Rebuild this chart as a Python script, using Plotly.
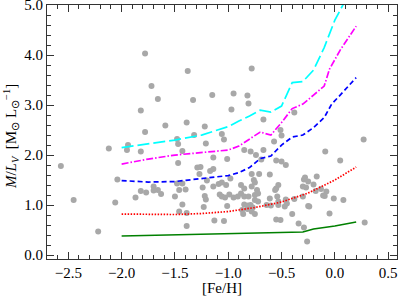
import plotly.graph_objects as go

# Observed globular clusters (gray points)
obs_feh = [-1.78, -1.38, -0.78, -1.72, -1.66, -1.33, -1.15, -0.95, -0.82, -0.81,
           -0.97, -1.82, -0.38, -0.67, -1.59, -1.39, -1.22, -1.78, -1.32, -1.06,
           -0.51, -0.50, -1.48, -1.04, -2.12, -1.94, -1.95, -1.82, -2.04, -1.70,
           -1.66, -1.70, -1.82, -1.77, -1.63, -1.87, -1.50, -2.06, -2.22, -2.57,
           -2.45, -1.47, -1.21, -1.43, -1.14, -1.01, -1.47, -1.29, -1.26, -1.17,
           -1.14, -1.27, -1.20, -0.98, -1.48, -1.43, -1.09, -1.06, -1.02, -1.24,
           -1.14, -1.46, -1.40, -1.08, -1.06, -1.03, -0.99, -0.95, -0.91, -1.22,
           -1.21, -1.43, -1.23, -1.01, -1.46, -1.39, -1.39, -1.13, -1.04, -0.57,
           -0.85, -0.79, -0.74, -0.67, -0.69, -0.55, -0.50, -0.46, -0.78, -0.71,
           -0.61, -0.76, -0.75, -0.88, -0.85, -0.78, -0.73, -0.53, -0.55, -0.56,
           -0.88, -0.85, -0.81, -0.75, -0.72, -0.75, -0.61, -0.54, -0.53, -0.46,
           -0.45, -0.47, -0.72, -0.85, -0.815, -0.79, -0.77, -0.82, -0.87, -0.78,
           -0.86, -0.75, -0.64, -0.60, -0.53, -0.40, -0.55, -0.51, -0.34, 0.27,
           -0.09, 0.05, -0.17, -0.29, -0.28, -0.25, -0.20, -0.30, -0.27, -0.13,
           -0.18, -0.08, -0.11, -0.095, -0.30, -0.38, -0.01, 0.08, -0.25, -0.24,
           -0.05, 0.28, -0.29, -0.26]
obs_ml = [4.03, 3.68, 3.73, 3.38, 3.12, 3.10, 3.20, 3.23, 3.19, 3.03,
          2.91, 2.89, 2.85, 2.71, 2.59, 2.65, 2.57, 2.46, 2.40, 2.42,
          2.50, 2.39, 2.32, 2.31, 2.13, 2.20, 2.10, 2.07, 1.51, 1.37,
          1.30, 1.29, 1.28, 1.25, 1.22, 1.15, 1.17, 1.05, 0.47, 1.78,
          1.10, 2.22, 2.23, 2.08, 1.95, 1.92, 1.84, 1.75, 1.76, 1.68,
          1.72, 1.62, 1.49, 1.53, 1.43, 1.43, 1.42, 1.45, 1.40, 1.35,
          1.37, 1.30, 1.31, 1.21, 1.17, 1.15, 1.21, 1.15, 1.17, 1.18,
          1.11, 1.01, 0.96, 0.98, 0.87, 0.84, 0.58, 0.69, 0.68, 2.27,
          2.10, 2.07, 2.00, 2.10, 1.91, 1.89, 1.87, 1.80, 1.62, 1.62,
          1.61, 1.50, 1.45, 1.40, 1.33, 1.37, 1.30, 1.40, 1.33, 1.30,
          1.23, 1.17, 1.17, 1.20, 1.23, 1.10, 1.13, 1.17, 1.07, 1.11,
          1.03, 0.97, 1.07, 1.01, 0.99, 1.00, 0.95, 0.92, 0.90, 0.87,
          0.82, 0.82, 1.00, 0.99, 1.00, 0.82, 0.71, 0.70, 0.63, 2.31,
          2.07, 1.89, 1.57, 1.51, 1.55, 1.47, 1.41, 1.37, 1.35, 1.32,
          1.28, 1.27, 1.19, 1.18, 1.17, 1.12, 1.13, 1.10, 0.98, 0.97,
          0.83, 0.65, 0.55, 0.27]

# Model tracks
green_feh = [-2.0, -1.5, -1.0, -0.5, -0.3, -0.2, 0.0, 0.2]
green_ml = [0.38, 0.40, 0.42, 0.44, 0.46, 0.52, 0.58, 0.66]

red_feh = [-2.0, -1.75, -1.5, -1.25, -1.0, -0.75, -0.5, -0.25, 0.0, 0.2]
red_ml = [0.82, 0.81, 0.81, 0.83, 0.87, 0.95, 1.06, 1.24, 1.50, 1.76]

blue_feh = [-2.0, -1.75, -1.5, -1.25, -1.0, -0.9, -0.8, -0.7, -0.6, -0.5, -0.4,
            -0.3, -0.2, -0.1, -0.03, 0.05, 0.2]
blue_ml = [1.49, 1.46, 1.47, 1.53, 1.59, 1.65, 1.75, 1.93, 1.98, 2.20, 2.36,
           2.40, 2.55, 2.75, 3.02, 3.20, 3.55]

mag_feh = [-2.0, -1.75, -1.5, -1.25, -1.0, -0.9, -0.8, -0.7, -0.6, -0.5, -0.4,
           -0.3, -0.2, -0.1, -0.05, 0.05, 0.2]
mag_ml = [1.82, 1.92, 2.00, 2.05, 2.10, 2.18, 2.32, 2.46, 2.40, 2.65, 2.93,
          3.02, 3.20, 3.38, 3.72, 4.10, 4.58]

cyan_feh = [-2.0, -1.75, -1.5, -1.25, -1.0, -0.9, -0.8, -0.7, -0.6, -0.5, -0.4,
            -0.3, -0.2, -0.1, 0.0, 0.1]
cyan_ml = [2.15, 2.22, 2.30, 2.40, 2.57, 2.68, 2.78, 2.90, 2.86, 2.98, 3.45,
           3.47, 3.70, 4.15, 4.70, 5.10]

x_ticks = [-2.5, -2.0, -1.5, -1.0, -0.5, 0.0, 0.5]
y_ticks = [0.0, 1.0, 2.0, 3.0, 4.0, 5.0]

fig = go.Figure()
fig.add_trace(go.Scatter(x=obs_feh, y=obs_ml, mode="markers",
                         marker=dict(color="#a8a8a8", size=6, line=dict(width=0)),
                         showlegend=False))
tracks = [
    (green_feh, green_ml, "#008000", "solid"),
    (red_feh, red_ml, "#ff0000", "1.5px,1.5px"),
    (blue_feh, blue_ml, "#0000ff", "5px,3px"),
    (mag_feh, mag_ml, "#ff00ff", "7px,2px,1.5px,2px"),
    (cyan_feh, cyan_ml, "#00ffff", "12px,4px"),
]
for xs, ys, col, dash in tracks:
    fig.add_trace(go.Scatter(x=xs, y=ys, mode="lines",
                             line=dict(color=col, width=1.7, dash=dash),
                             showlegend=False))

font = dict(family="Liberation Serif", size=15, color="black")
axis_common = dict(showgrid=False, zeroline=False, showline=True, linecolor="#333",
                   linewidth=1, mirror="allticks", ticks="inside", ticklen=7,
                   tickcolor="#333", tickfont=font, automargin=False,
                   ticklabeloverflow="allow")
fig.update_xaxes(range=[-2.70, 0.583], tickvals=x_ticks,
                 ticktext=[f"{v:.1f}".replace("-", "\u2212") for v in x_ticks],
                 minor=dict(dtick=0.1, ticks="inside", ticklen=4, tickcolor="#333"),
                 **axis_common)
fig.update_yaxes(range=[-0.08, 5.003], tickvals=y_ticks,
                 ticktext=[f"{v:.1f}" for v in y_ticks],
                 minor=dict(dtick=0.2, ticks="inside", ticklen=4, tickcolor="#333"),
                 **axis_common)
fig.add_annotation(text="[Fe/H]", xref="paper", yref="paper", x=0.5, y=0,
                   xanchor="center", yanchor="middle", yshift=-29,
                   showarrow=False, font=font)
fig.add_annotation(text="<i>M</i>/<i>L<sub>V</sub></i>  [M<sub>\u2299</sub> L<sub>\u2299</sub><sup>\u22121</sup>]",
                   xref="paper", yref="paper", x=0, y=0.48, textangle=-90,
                   xanchor="center", yanchor="middle", xshift=-36,
                   showarrow=False, font=font)
fig.update_layout(width=399, height=299, margin=dict(l=47, r=2, t=5, b=40),
                  plot_bgcolor="white", paper_bgcolor="white", font=font)
fig.write_html("out.html", config={"displayModeBar": False},
               post_script="document.body.style.margin='0';")
